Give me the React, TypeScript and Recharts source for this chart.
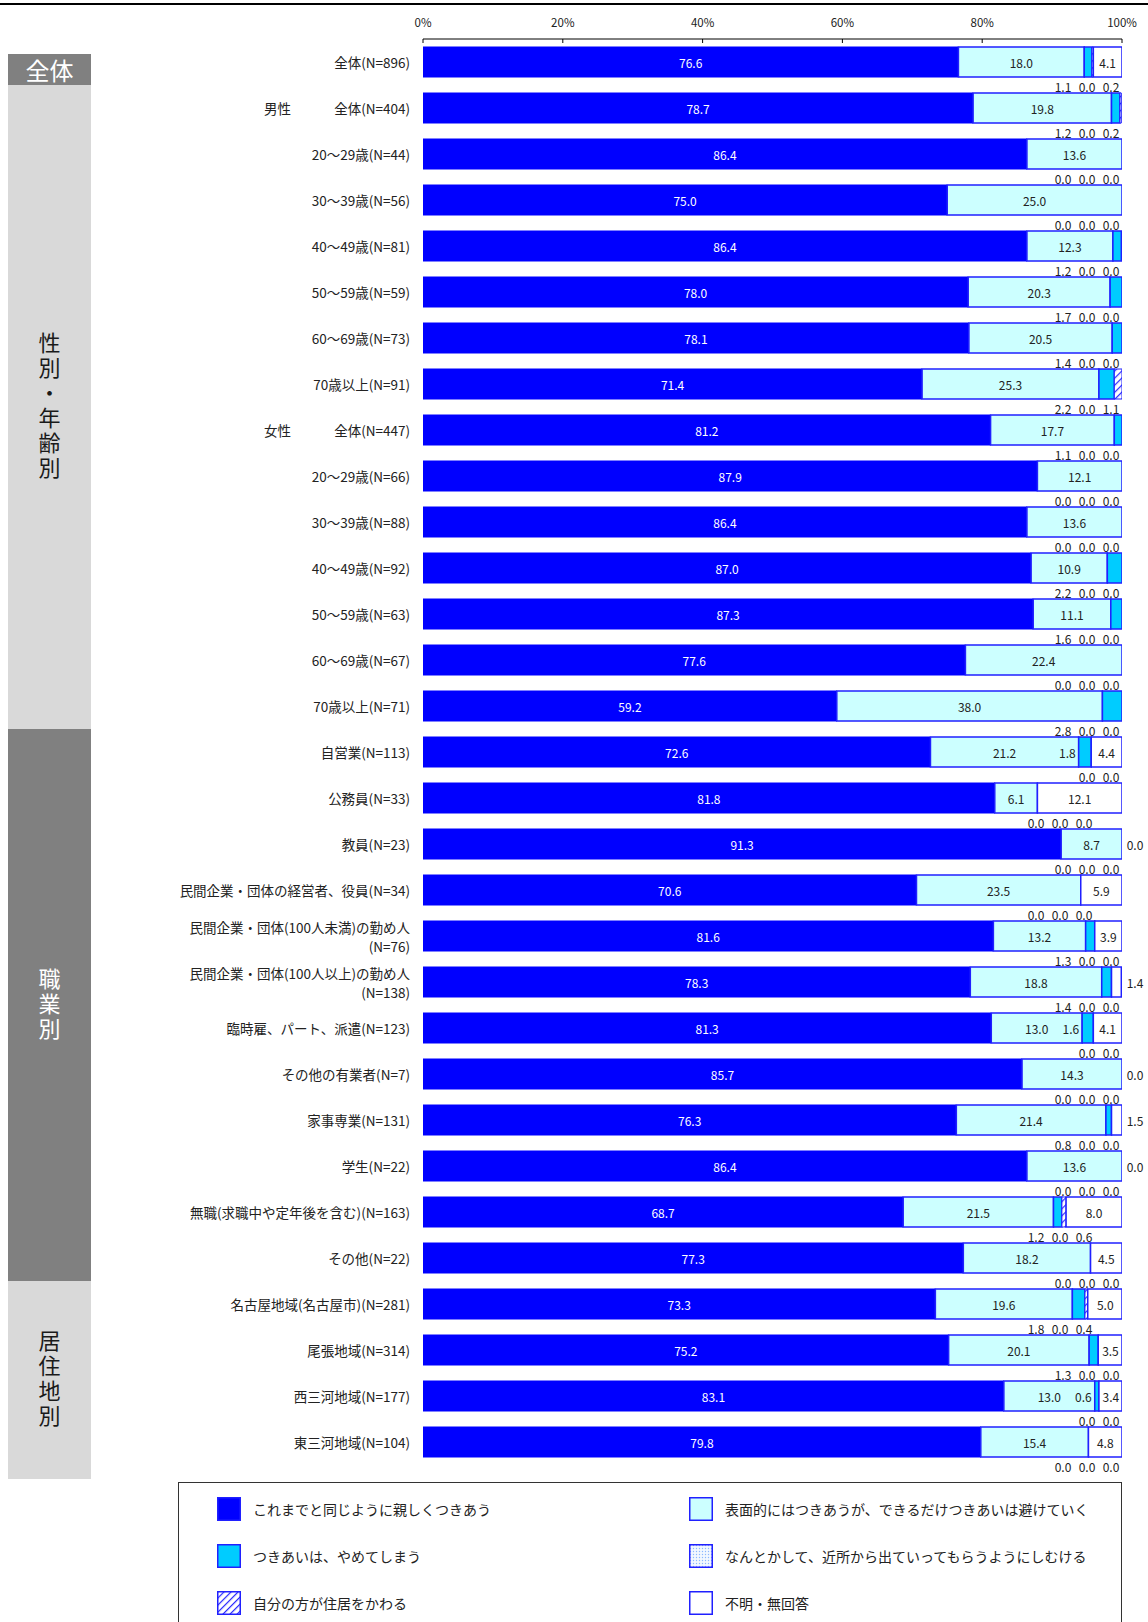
import React from 'react'
import { BarChart, Bar, XAxis, YAxis, LabelList } from 'recharts'

// 回答者属性ごとの回答割合（%）
const categories = [
  '全体(N=896)',
  '男性　全体(N=404)',
  '20～29歳(N=44)',
  '30～39歳(N=56)',
  '40～49歳(N=81)',
  '50～59歳(N=59)',
  '60～69歳(N=73)',
  '70歳以上(N=91)',
  '女性　全体(N=447)',
  '20～29歳(N=66)',
  '30～39歳(N=88)',
  '40～49歳(N=92)',
  '50～59歳(N=63)',
  '60～69歳(N=67)',
  '70歳以上(N=71)',
  '自営業(N=113)',
  '公務員(N=33)',
  '教員(N=23)',
  '民間企業・団体の経営者、役員(N=34)',
  '民間企業・団体(100人未満)の勤め人\n(N=76)',
  '民間企業・団体(100人以上)の勤め人\n(N=138)',
  '臨時雇、パート、派遣(N=123)',
  'その他の有業者(N=7)',
  '家事専業(N=131)',
  '学生(N=22)',
  '無職(求職中や定年後を含む)(N=163)',
  'その他(N=22)',
  '名古屋地域(名古屋市)(N=281)',
  '尾張地域(N=314)',
  '西三河地域(N=177)',
  '東三河地域(N=104)',
]

const keep = [76.6, 78.7, 86.4, 75.0, 86.4, 78.0, 78.1, 71.4, 81.2, 87.9, 86.4, 87.0, 87.3, 77.6, 59.2, 72.6, 81.8, 91.3, 70.6, 81.6, 78.3, 81.3, 85.7, 76.3, 86.4, 68.7, 77.3, 73.3, 75.2, 83.1, 79.8]
const surface = [18.0, 19.8, 13.6, 25.0, 12.3, 20.3, 20.5, 25.3, 17.7, 12.1, 13.6, 10.9, 11.1, 22.4, 38.0, 21.2, 6.1, 8.7, 23.5, 13.2, 18.8, 13.0, 14.3, 21.4, 13.6, 21.5, 18.2, 19.6, 20.1, 13.0, 15.4]
const stop = [1.1, 1.2, 0.0, 0.0, 1.2, 1.7, 1.4, 2.2, 1.1, 0.0, 0.0, 2.2, 1.6, 0.0, 2.8, 1.8, 0.0, 0.0, 0.0, 1.3, 1.4, 1.6, 0.0, 0.8, 0.0, 1.2, 0.0, 1.8, 1.3, 0.6, 0.0]
const pushOut = [0.0, 0.0, 0.0, 0.0, 0.0, 0.0, 0.0, 0.0, 0.0, 0.0, 0.0, 0.0, 0.0, 0.0, 0.0, 0.0, 0.0, 0.0, 0.0, 0.0, 0.0, 0.0, 0.0, 0.0, 0.0, 0.0, 0.0, 0.0, 0.0, 0.0, 0.0]
const moveAway = [0.2, 0.2, 0.0, 0.0, 0.0, 0.0, 0.0, 1.1, 0.0, 0.0, 0.0, 0.0, 0.0, 0.0, 0.0, 0.0, 0.0, 0.0, 0.0, 0.0, 0.0, 0.0, 0.0, 0.0, 0.0, 0.6, 0.0, 0.4, 0.0, 0.0, 0.0]
const unknown = [4.1, 0.0, 0.0, 0.0, 0.0, 0.0, 0.0, 0.0, 0.0, 0.0, 0.0, 0.0, 0.0, 0.0, 0.0, 4.4, 12.1, 0.0, 5.9, 3.9, 1.4, 4.1, 0.0, 1.5, 0.0, 8.0, 4.5, 5.0, 3.5, 3.4, 4.8]

// 区分ごとの行数
const sections = [
  { label: '全体', rows: 1, dark: true },
  { label: '性別・年齢別', rows: 14, dark: false },
  { label: '職業別', rows: 12, dark: true },
  { label: '居住地別', rows: 4, dark: false },
]

const seriesNames = [
  'これまでと同じように親しくつきあう',
  '表面的にはつきあうが、できるだけつきあいは避けていく',
  'つきあいは、やめてしまう',
  'なんとかして、近所から出ていってもらうようにしむける',
  '自分の方が住居をかわる',
  '不明・無回答',
]

// 「やめてしまう」の値を帯の中に置く行
const inlineStop = ['自営業(N=113)', '臨時雇、パート、派遣(N=123)', '西三河地域(N=177)']

const xTicks = [0, 20, 40, 60, 80, 100]

const FONT = '"Noto Sans CJK JP", "Noto Sans", sans-serif'
const BLUE = '#0000ff'
const EDGE = '#2020ff'
const LIGHT = '#ccffff'
const CYAN = '#00ccff'

const PLOT_TOP = 39
const PLOT_RIGHT = 1122
const BAND = 46
const Y_LABEL_X = 410

const sectionOf: string[] = []
sections.forEach((s) => {
  for (let i = 0; i < s.rows; i++) sectionOf.push(s.label)
})

const data = categories.map((name, i) => ({
  name,
  keep: keep[i],
  surface: surface[i],
  stop: stop[i],
  pushOut: pushOut[i],
  moveAway: moveAway[i],
  unknown: unknown[i],
}))

const txt = (key: string, x: number, y: number, s: string, fill = '#222', anchor = 'middle') => (
  <text
    key={key}
    x={x}
    y={y}
    fill={fill}
    fontSize={12}
    fontFamily={FONT}
    textAnchor={anchor as any}
    dominantBaseline="central"
  >
    {s}
  </text>
)

// 1行分の数値ラベル。先頭の帯の幅から1%あたりの長さを求めて各帯の位置を出す
const RowLabels = (props: any) => {
  const vb = props.viewBox ?? {}
  const x = Number(props.x ?? vb.x)
  const y = Number(props.y ?? vb.y)
  const width = Number(props.width ?? vb.width ?? 0)
  const height = Number(props.height ?? vb.height ?? 0)
  const row = data[props.index]
  if (!row || Number.isNaN(x) || Number.isNaN(y)) return null
  const unit = width / row.keep
  const px = (v: number) => x + v * unit
  const f = (v: number) => v.toFixed(1)
  const cy = y + height / 2
  const below = cy + 24
  const s1 = row.keep
  const s2 = s1 + row.surface
  const s3 = s2 + row.stop
  const s5 = s3 + row.pushOut + row.moveAway
  const s6 = s5 + row.unknown
  // 小さい値は棒の下にまとめて並べる
  const mid = row.unknown >= 5 ? 1060 : 1087
  const out = [
    txt('k', px(s1 / 2), cy, f(row.keep), '#fff'),
    txt('s', px((s1 + s2) / 2), cy, f(row.surface)),
  ]
  if (inlineStop.includes(row.name)) {
    out.push(txt('c', px(s2) - 3, cy, f(row.stop), '#222', 'end'))
  } else {
    out.push(txt('c', mid - 24, below, f(row.stop)))
  }
  out.push(txt('p', mid, below, f(row.pushOut)))
  out.push(txt('m', mid + 24, below, f(row.moveAway)))
  if (row.unknown >= 3) {
    out.push(txt('u', px((s5 + s6) / 2), cy, f(row.unknown)))
  } else if (sectionOf[props.index] === '職業別') {
    out.push(txt('u', PLOT_RIGHT + 13, cy, f(row.unknown)))
  }
  return <g>{out}</g>
}

const XTick = (props: any) => {
  const { x, y, payload } = props
  return (
    <g>
      <line x1={x} x2={x} y1={y} y2={y + 4} stroke="#000" strokeWidth={1} />
      <text x={x} y={y - 17} fontSize={11.5} fontFamily={FONT} fill="#222" textAnchor="middle" dominantBaseline="central">
        {payload.value}%
      </text>
    </g>
  )
}

const YTick = (props: any) => {
  const { y, payload } = props
  const label: string = payload.value
  const lines = label.split('\n')
  const style = { fontSize: 13.5, fontFamily: FONT, fill: '#222' }
  if (lines.length > 1) {
    return (
      <g>
        <text x={Y_LABEL_X} y={y - 9} textAnchor="end" dominantBaseline="central" {...style}>
          {lines[0]}
        </text>
        <text x={Y_LABEL_X} y={y + 10} textAnchor="end" dominantBaseline="central" {...style}>
          {lines[1]}
        </text>
      </g>
    )
  }
  const parts = label.split('　')
  if (parts.length > 1) {
    return (
      <g>
        <text x={264} y={y} textAnchor="start" dominantBaseline="central" {...style}>
          {parts[0]}
        </text>
        <text x={Y_LABEL_X} y={y} textAnchor="end" dominantBaseline="central" {...style}>
          {parts[1]}
        </text>
      </g>
    )
  }
  return (
    <text x={Y_LABEL_X} y={y} textAnchor="end" dominantBaseline="central" {...style}>
      {label}
    </text>
  )
}

const Patterns = () => (
  <svg width={0} height={0} style={{ position: 'absolute' }}>
    <defs>
      <pattern id="dots" width={3} height={3} patternUnits="userSpaceOnUse">
        <rect width={3} height={3} fill="#f2f8ff" />
        <circle cx={1.5} cy={1.5} r={0.7} fill="#8cb8ff" />
      </pattern>
      <pattern id="hatch" width={5} height={5} patternUnits="userSpaceOnUse" patternTransform="rotate(45)">
        <rect width={5} height={5} fill="#fff" />
        <line x1={0} y1={0} x2={0} y2={5} stroke="#2a2aff" strokeWidth={2.4} />
      </pattern>
    </defs>
  </svg>
)

const swatchFill = [BLUE, LIGHT, CYAN, 'url(#dots)', 'url(#hatch)', '#fff']

const SideBoxes = () => {
  let start = 0
  return (
    <>
      {sections.map((s, k) => {
        const top = PLOT_TOP + start * BAND + (k === 0 ? 15 : 0)
        const last = k === sections.length - 1
        const bottom = PLOT_TOP + (start + s.rows) * BAND + (last ? 14 : 0)
        start += s.rows
        return (
          <div
            key={s.label}
            style={{
              position: 'absolute',
              left: 8,
              top,
              width: 83,
              height: bottom - top,
              background: s.dark ? '#808080' : '#d9d9d9',
              color: s.dark ? '#fff' : '#1a1a1a',
              display: 'flex',
              alignItems: 'center',
              justifyContent: 'center',
              fontFamily: FONT,
              fontSize: k === 0 ? 24 : 22,
              lineHeight: 1,
            }}
          >
            <span
              style={
                k === 0
                  ? undefined
                  : { writingMode: 'vertical-rl', textOrientation: 'upright', letterSpacing: 3 }
              }
            >
              {s.label}
            </span>
          </div>
        )
      })}
    </>
  )
}

const Legend = () => (
  <div
    style={{
      position: 'absolute',
      left: 178,
      top: 1482,
      width: 944,
      height: 170,
      border: '1px solid #333',
      boxSizing: 'border-box',
      fontFamily: FONT,
      fontSize: 14,
      color: '#222',
    }}
  >
    {seriesNames.map((n, i) => {
      const col = i % 2
      const row = Math.floor(i / 2)
      return (
        <div
          key={n}
          style={{
            position: 'absolute',
            left: col === 0 ? 38 : 510,
            top: 14 + row * 47,
            display: 'flex',
            alignItems: 'center',
            height: 24,
          }}
        >
          <svg width={24} height={24} style={{ marginRight: 12 }}>
            <rect x={0.75} y={0.75} width={22.5} height={22.5} fill={swatchFill[i]} stroke={EDGE} strokeWidth={1.5} />
          </svg>
          <span>{n}</span>
        </div>
      )
    })}
  </div>
)

export default function App() {
  return (
    <div
      style={{
        position: 'absolute',
        left: 0,
        top: 0,
        width: 1148,
        height: 1622,
        overflow: 'hidden',
        background: '#fff',
      }}
    >
      <Patterns />
      <div style={{ position: 'absolute', left: 0, top: 3, width: 1148, height: 2, background: '#000' }} />
      <SideBoxes />
      <div style={{ position: 'absolute', left: 0, top: 0 }}>
        <BarChart
          width={1148}
          height={1480}
          data={data}
          layout="vertical"
          margin={{ top: 0, right: 1148 - PLOT_RIGHT, bottom: 15, left: 0 }}
          barSize={30}
        >
          <XAxis
            type="number"
            orientation="top"
            domain={[0, 100]}
            allowDataOverflow
            ticks={xTicks}
            height={PLOT_TOP}
            tickLine={false}
            tickSize={0}
            tickMargin={0}
            axisLine={{ stroke: '#000' }}
            tick={<XTick />}
          />
          <YAxis
            type="category"
            dataKey="name"
            width={423}
            tickLine={false}
            axisLine={false}
            interval={0}
            tick={<YTick />}
          />
          <Bar dataKey="keep" stackId="a" fill={BLUE} stroke={BLUE} strokeWidth={1} isAnimationActive={false}>
            <LabelList dataKey="keep" content={<RowLabels />} />
          </Bar>
          <Bar dataKey="surface" stackId="a" fill={LIGHT} stroke={EDGE} strokeWidth={1.5} isAnimationActive={false} />
          <Bar dataKey="stop" stackId="a" fill={CYAN} stroke={EDGE} strokeWidth={1.5} isAnimationActive={false} />
          <Bar dataKey="pushOut" stackId="a" fill="url(#dots)" stroke={EDGE} strokeWidth={1.5} isAnimationActive={false} />
          <Bar dataKey="moveAway" stackId="a" fill="url(#hatch)" stroke={EDGE} strokeWidth={1} isAnimationActive={false} />
          <Bar dataKey="unknown" stackId="a" fill="#fff" stroke={EDGE} strokeWidth={1.5} isAnimationActive={false} />
        </BarChart>
      </div>
      <Legend />
    </div>
  )
}
